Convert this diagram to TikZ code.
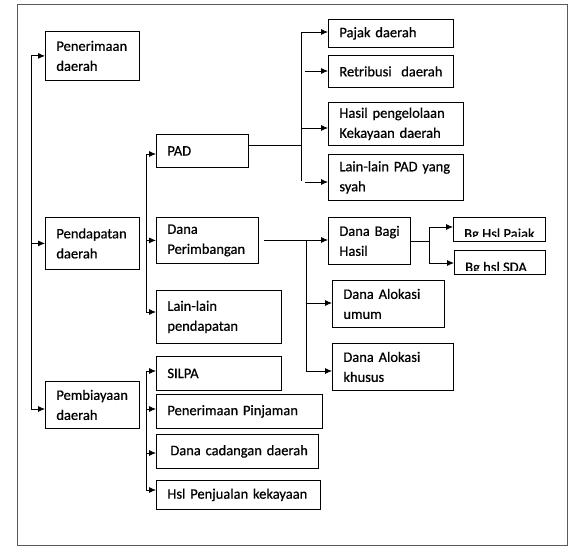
\documentclass[tikz,border=0pt]{standalone}
\usepackage{fontspec}
\setmainfont{Carlito}[RawFeature={embolden=0.6}]
\usepackage{tikz}
\usetikzlibrary{arrows.meta, calc}

\tikzset{
  kotak/.style={draw, line width=0.8pt, anchor=north west, align=left, inner xsep=11pt, inner ysep=0pt,
    font=\fontsize{14.5pt}{20pt}\selectfont},
  teks/.style={anchor=base west, inner sep=0pt, font=\fontsize{14.5pt}{20pt}\selectfont},
  panah/.style={line width=0.8pt, -{Latex[length=7pt,width=6pt]}},
  garis/.style={line width=0.8pt},
  bingkai/.style={line width=0.9pt, draw=black!65}
}

\begin{document}
\begin{tikzpicture}[x=1pt, y=-1pt]
  \useasboundingbox (0,0) rectangle (581,551);
  \draw[bingkai] (17,4) rectangle (567,545);

  \node[kotak, text width=72pt, minimum height=49pt] (penerimaan) at (45,31) {Penerimaan\\daerah};
  \node[kotak, text width=72pt, minimum height=52pt] (pendapatan) at (45,217) {Pendapatan\\daerah};
  \node[kotak, text width=72pt, minimum height=47pt] (pembiayaan) at (45,381) {Pembiayaan\\daerah};

  \node[kotak, text width=70pt, minimum height=33pt] (pad) at (156,134) {PAD};
  \node[kotak, text width=80pt, minimum height=46pt] (perimbangan) at (156,217) {Dana\\Perimbangan};
  \node[kotak, text width=103pt, minimum height=53pt] (lainpend) at (156,290) {Lain-lain\\pendapatan};

  \node[kotak, text width=103pt, minimum height=34pt] (silpa) at (156,356) {SILPA};
  \node[kotak, text width=144pt, minimum height=34pt] (pinjaman) at (156,394) {\mbox{Penerimaan Pinjaman}};
  \node[kotak, text width=140pt, minimum height=34pt] (cadangan) at (156,434) {\mbox{\hspace{3pt}Dana cadangan daerah}};
  \node[kotak, text width=142pt, minimum height=29pt] (penjualan) at (156,480) {\mbox{Hsl Penjualan kekayaan}};

  \node[kotak, text width=103pt, minimum height=28pt] (pajak) at (328,19) {\mbox{Pajak daerah}};
  \node[kotak, text width=103pt, minimum height=32pt] (retribusi) at (328,55) {\mbox{Retribusi\ \ daerah}};
  \node[kotak, text width=113pt, minimum height=43pt] (hasil) at (328,102) {\mbox{Hasil pengelolaan}\\\mbox{Kekayaan daerah}};
  \node[kotak, text width=113pt, minimum height=46pt] (lainpad) at (328,154) {\mbox{Lain-lain PAD yang}\\syah};

  \node[kotak, text width=60pt, minimum height=47pt] (bagihasil) at (328,217) {\mbox{Dana Bagi}\\Hasil};
  \node[kotak, text width=90pt, minimum height=47pt] (dau) at (332,280) {\mbox{Dana Alokasi}\\umum};
  \node[kotak, text width=99pt, minimum height=47pt] (dak) at (332,343) {\mbox{Dana Alokasi}\\khusus};

  \begin{scope}
    \clip (453,217) rectangle (545,236.5);
    \node[teks] (tpajak) at (464,238.5) {Bg Hsl Pajak};
  \end{scope}
  \begin{scope}
    \clip (454,250) rectangle (545,270);
    \node[teks] (tsda) at (465,272) {Bg hsl SDA};
  \end{scope}
  \node[kotak, text width=70pt, minimum height=24pt] (bgpajak) at (453,217) {};
  \node[kotak, text width=69pt, minimum height=24pt] (bgsda) at (454,250) {};

  \coordinate (akar) at (31,409);
  \draw[panah] (akar) |- (penerimaan);
  \draw[panah] (akar |- pendapatan) -- (pendapatan);
  \draw[panah] (akar) -- (pembiayaan.west |- akar);

  \coordinate (c1) at (146,154);
  \coordinate (c2) at (146,312);
  \draw[garis] (c1) -- (c2);
  \draw[panah] (c1) -- (pad.west |- c1);
  \draw[panah] (c1 |- perimbangan) -- (perimbangan);
  \draw[panah] (c2) -- (lainpend.west |- c2);

  \coordinate (d1) at (146,371);
  \coordinate (d2) at (146,490);
  \draw[garis] (d1) -- (d2);
  \draw[panah] (d1) -- (silpa.west |- d1);
  \draw[panah] (d1 |- 0,409) -- (pinjaman.west |- 0,409);
  \draw[panah] (d1 |- 0,453) -- (cadangan.west |- 0,453);
  \draw[panah] (d2) -- (penjualan.west |- d2);

  \coordinate (p0) at (301,145);
  \coordinate (p1) at (301,32);
  \coordinate (p2) at (301,181);
  \draw[garis] (pad.east |- p0) -- (p0);
  \draw[garis] (p1) -- (p2);
  \draw[panah] (p1) -- (pajak.west |- p1);
  \draw[panah] (305,71) -- (retribusi.west |- 0,71);
  \draw[panah] (p1 |- 0,128) -- (hasil.west |- 0,128);
  \draw[panah] (305,182) -- (lainpad.west |- 0,182);

  \coordinate (q0) at (306,240);
  \coordinate (q1) at (306,371);
  \draw[panah] ([xshift=5pt]perimbangan.east |- q0) -- (bagihasil.west |- q0);
  \draw[garis] (q0) -- (q1);
  \draw[panah] (q0 |- 0,303) -- (dau.west |- 0,303);
  \draw[panah] (q1) -- (dak.west |- q1);

  \coordinate (r1) at (429,227);
  \coordinate (r2) at (429,263);
  \draw[garis] (bagihasil.east |- 0,241) -- (r1 |- 0,241);
  \draw[garis] (r1) -- (r2);
  \draw[panah] (r1) -- (bgpajak.west |- r1);
  \draw[panah] (r2) -- (bgsda.west |- r2);
\end{tikzpicture}
\end{document}
